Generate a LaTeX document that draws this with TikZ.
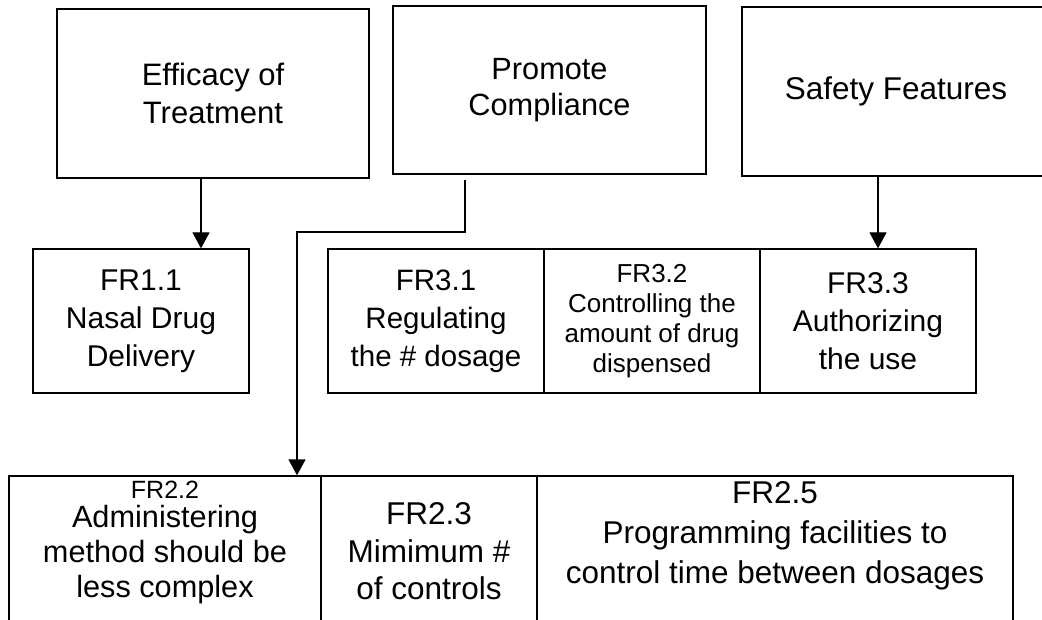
\documentclass[tikz,border=0pt]{standalone}
\usepackage{fontspec}
\setmainfont{Liberation Sans}
\usetikzlibrary{arrows.meta}
\begin{document}
\begin{tikzpicture}[x=1pt,y=-1pt,
  box/.style={draw,line width=1.3pt,inner sep=0pt,align=center},
  txt/.style={inner sep=0pt,align=center,anchor=north},
  arr/.style={line width=1.3pt,-{Triangle[length=16pt,width=17pt]}},
  ln/.style={line width=1.3pt}]
\useasboundingbox (0,0) rectangle (1042,620);
\clip (0,0) rectangle (1042,620);
\fill[white] (0,0) rectangle (1042,620);

% top row
\node[box,minimum width=312pt,minimum height=169pt,font=\fontsize{31}{38}\selectfont] (eff) at (213,93.5) {Efficacy of\\Treatment};
\node[box,minimum width=313pt,minimum height=168pt,font=\fontsize{30.7}{36}\selectfont] (pc) at (549.5,90) {Promote\\Compliance};
\node[box,minimum width=308pt,minimum height=169pt,font=\fontsize{31.5}{38}\selectfont] (saf) at (896,91.5) {Safety Features};

% middle row
\node[box,minimum width=216pt,minimum height=144pt,font=\fontsize{30}{38}\selectfont] (fr11) at (141,321) {FR1.1\\Nasal Drug\\Delivery};
\node[box,minimum width=216pt,minimum height=144pt,font=\fontsize{29.5}{38}\selectfont] (fr31) at (436,321) {FR3.1\\Regulating\\the \# dosage};
\node[box,minimum width=216pt,minimum height=144pt,font=\fontsize{26}{30}\selectfont] (fr32) at (652,321) {FR3.2\\Controlling the\\amount of drug\\dispensed};
\node[box,minimum width=216pt,minimum height=144pt,font=\fontsize{30}{38}\selectfont] (fr33) at (868,321) {FR3.3\\Authorizing\\the use};

% bottom row (cut by the lower edge)
\node[box,minimum width=312pt,minimum height=190pt] (fr22) at (165,571) {};
\node[box,minimum width=216pt,minimum height=190pt] (fr23) at (429,571) {};
\node[box,minimum width=476pt,minimum height=190pt] (fr25) at (775,571) {};
\node[txt,font=\fontsize{30.7}{35}\selectfont] (t22) at (165,481) {{\fontsize{25}{25}\selectfont FR2.2}\\[-6pt]Administering\\method should be\\less complex};
\node[txt,font=\fontsize{31.5}{37.5}\selectfont] (t23) at (429,502.5) {FR2.3\\Mimimum \#\\of controls};
\node[txt,font=\fontsize{31.5}{40}\selectfont] (t25) at (775,481.5) {FR2.5\\Programming facilities to\\control time between dosages};

% connectors
\coordinate (ea) at (201,0);
\draw[arr] (eff.south -| ea) -- (fr11.north -| ea);
\coordinate (sa) at (878,0);
\draw[arr] (saf.south -| sa) -- (fr33.north -| sa);
\coordinate (pa) at (465,232);
\coordinate (pb) at (297,232);
\draw[arr] ([yshift=-5pt]pc.south -| pa) -- (pa) -- (pb) -- (fr22.north -| pb);
\end{tikzpicture}
\end{document}
